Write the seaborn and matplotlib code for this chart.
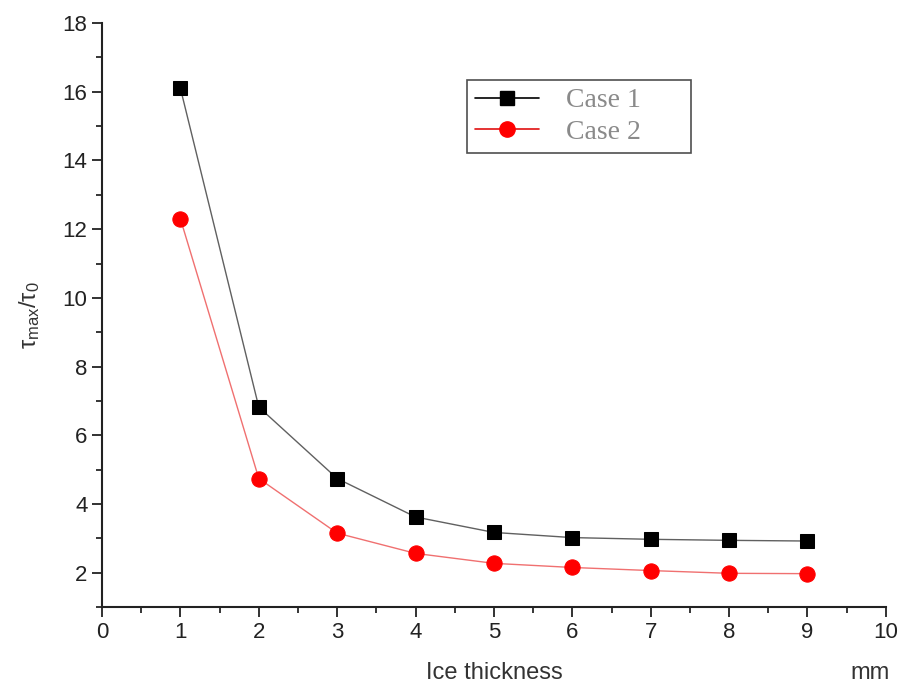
import numpy as np
import pandas as pd
import seaborn as sns
from matplotlib import pyplot as plt
from matplotlib.ticker import MultipleLocator

thickness = [1, 2, 3, 4, 5, 6, 7, 8, 9]
case1 = [16.1, 6.82, 4.74, 3.62, 3.17, 3.02, 2.97, 2.94, 2.92]
case2 = [12.3, 4.74, 3.15, 2.56, 2.27, 2.15, 2.06, 1.98, 1.97]

df = pd.DataFrame({"x": thickness * 2,
                   "y": case1 + case2,
                   "case": ["Case 1"] * 9 + ["Case 2"] * 9})

sns.set_style("ticks")
plt.rcParams['font.family'] = ['Liberation Sans', 'DejaVu Sans']
plt.rcParams['mathtext.fontset'] = 'custom'
plt.rcParams['mathtext.rm'] = 'Liberation Sans'
plt.rcParams['mathtext.it'] = 'Liberation Sans'

fig = plt.figure(figsize=(9.03, 6.91), dpi=100)
ax = fig.add_axes([0.113, 0.1216, 0.868, 0.845])

sns.lineplot(data=df[df.case == "Case 1"], x="x", y="y", ax=ax, color="#606060",
             lw=1, marker="s", markersize=10, markerfacecolor="black",
             markeredgecolor="black", legend=False)
sns.lineplot(data=df[df.case == "Case 2"], x="x", y="y", ax=ax, color="#f07070",
             lw=1, marker="o", markersize=11, markerfacecolor="#ff0000",
             markeredgecolor="#ff0000", legend=False)

ax.set_xlim(0, 10)
ax.set_ylim(1, 18)
ax.xaxis.set_major_locator(MultipleLocator(1))
ax.xaxis.set_minor_locator(MultipleLocator(0.5))
ax.set_yticks(np.arange(2, 19, 2))
ax.yaxis.set_minor_locator(MultipleLocator(1))
ax.tick_params(which="major", length=7, width=1.3, labelsize=16, colors="#222222")
ax.tick_params(which="minor", length=4, width=1.3)
for s in ["left", "bottom"]:
    ax.spines[s].set_linewidth(1.5)
    ax.spines[s].set_color("#222222")
sns.despine(ax=ax)

ax.set_xlabel("")
ax.set_ylabel(r"$\tau_{\mathrm{max}}/\tau_{\mathrm{0}}$", fontsize=17,
              color="#333333", labelpad=15)
fig.text(0.547, 0.018, "Ice thickness", fontsize=17, color="#333333", ha="center")
fig.text(0.963, 0.018, "mm", fontsize=17, color="#333333", ha="center")

h1 = plt.Line2D([], [], color="black", lw=1.2, marker="s", markersize=10)
h2 = plt.Line2D([], [], color="#e01010", lw=1.2, marker="o", markersize=11,
                markerfacecolor="red", markeredgecolor="red")
leg = ax.legend([h1, h2], ["Case 1      ", "Case 2      "], loc="upper left",
                bbox_to_anchor=(0.4656, 0.9024), borderaxespad=0,
                frameon=True, fancybox=False,
                edgecolor="#222222", handlelength=2.3, borderpad=0.28,
                labelspacing=0.23, handletextpad=1.0,
                prop={"family": "Liberation Serif", "size": 20})
leg.get_frame().set_linewidth(1.2)
for t in leg.get_texts():
    t.set_color("#8a8a8a")

fig.savefig("out.png", dpi=100)
